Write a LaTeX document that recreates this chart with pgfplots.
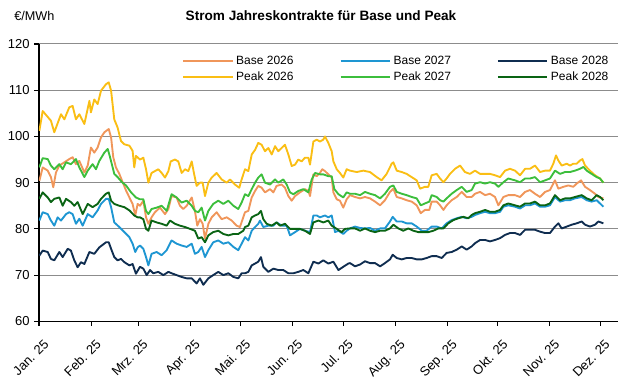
\documentclass[border=0pt]{standalone}
\usepackage{fontspec}
\setmainfont{Liberation Sans}
\usepackage{pgfplots}
\pgfplotsset{compat=1.18}
\definecolor{bA}{RGB}{240,150,90}
\definecolor{pA}{RGB}{250,190,20}
\definecolor{bB}{RGB}{30,150,210}
\definecolor{pB}{RGB}{60,190,60}
\definecolor{bC}{RGB}{15,45,80}
\definecolor{pC}{RGB}{10,100,20}
\begin{document}
\begin{tikzpicture}
\begin{axis}[name=ax, at={(0,0)}, anchor=south west, scale only axis,
 width=434.25pt, height=208pt,
 xmin=0, xmax=344.6, ymin=60, ymax=120, ytick={60,70,...,120},
 xtick={0,31,59,90,120,151,181,212,243,273,304,334},
 xticklabels={Jan. 25,Feb. 25,Mrz. 25,Apr. 25,Mai. 25,Jun. 25,Jul. 25,Aug. 25,Sep. 25,Okt. 25,Nov. 25,Dez. 25},
 axis x line*=bottom, axis y line*=left, axis line style={-, black, line width=0.8pt},
 tick align=outside, major tick length=3.5pt, tick style={black, line width=0.8pt},
 ymajorgrids, grid style={black!45, line width=0.75pt},
 /pgf/number format/assume math mode=true,
 ticklabel style={font=\fontsize{9.75}{11}\selectfont},
 xticklabel style={xshift=3pt, yshift=-8pt, rotate=45, anchor=north east, inner sep=1pt},
 legend columns=3,
 legend style={at={(0.24,0.976)}, anchor=north west, draw=none, fill=none,
   font=\fontsize{9}{10}\selectfont,
   /tikz/every even column/.append style={column sep=32.5pt}},
 legend cell align=left,
 legend image code/.code={\draw[#1, line width=1.5pt] (0pt,0pt) -- (37pt,0pt);},
 every axis plot/.append style={line width=1.4pt, line join=round},
]
% Base 2026
\addplot[bA] coordinates {
(0.2,90.4)(2.2,93.3)(5.2,92.6)(7.1,91.2)(8.5,89.0)(10.1,92.2)(12.1,93.7)(15.1,94.4)(18.0,95.1)(20.0,95.5)(22.0,94.0)(24.0,94.7)(27.0,92.2)(29.0,93.7)(30.9,97.6)(32.9,96.5)(34.9,97.6)(36.9,99.8)(38.9,100.9)(41.5,101.6)(42.9,99.8)(44.2,95.5)(45.8,93.3)(47.8,91.9)(49.8,90.1)(51.8,88.3)(53.8,86.8)(55.7,85.4)(57.3,82.9)(58.7,85.4)
(60.1,85.0)(62.1,86.1)(63.7,82.5)(65.1,81.1)(67.0,82.5)(69.0,83.6)(72.0,84.6)(75.0,83.2)(77.0,84.3)(78.9,87.1)(81.9,86.8)(83.9,85.0)(85.9,84.3)(87.9,85.0)(90.9,86.8)(92.8,83.9)(94.2,80.7)(95.8,82.1)(97.4,81.1)(98.8,77.9)(100.8,81.1)(102.8,82.5)(105.7,83.6)(108.7,82.1)(111.7,82.5)(114.7,81.8)(117.6,80.7)(119.6,80.4)
(122.6,83.6)(124.6,83.9)(126.6,86.8)(128.6,88.2)(130.5,89.3)(132.5,88.9)(134.5,87.9)(137.5,88.6)(139.5,87.9)(141.4,89.3)(144.4,89.6)(146.4,88.9)(148.4,87.1)(150.4,86.1)(152.4,87.1)(155.3,87.9)(158.3,88.6)(160.3,88.2)(161.3,87.1)(163.3,91.8)(165.3,91.4)(167.2,92.1)(168.6,92.9)(170.2,92.5)(172.2,91.8)(174.2,91.1)(175.2,87.9)(177.2,86.4)(179.1,86.1)(181.1,84.6)(183.1,86.4)
(185.1,87.3)(188.1,86.9)(191.1,86.6)(194.0,86.9)(197.0,86.6)(200.0,85.9)(203.0,85.1)(205.9,86.2)(208.9,88.0)(210.9,88.7)(212.9,86.9)(215.9,86.6)(218.8,86.2)(221.8,85.9)(224.8,85.1)(227.2,83.4)(229.7,84.1)(232.3,84.1)(233.7,85.9)(236.7,85.9)(238.7,85.1)(240.7,84.1)(242.6,85.1)(245.6,86.2)(248.6,86.9)(251.6,88.0)(254.5,86.9)(257.5,86.9)
(259.5,87.6)(262.5,88.0)(265.5,87.3)(268.4,87.6)(271.4,86.9)(273.4,85.1)(276.4,86.9)(279.3,87.3)(283.3,87.3)(286.3,86.9)(289.3,88.0)(292.2,88.4)(295.2,87.6)(298.2,86.9)(301.2,88.0)(304.1,88.4)(307.1,90.5)(309.1,88.7)(312.1,89.1)(315.0,89.4)(318.0,89.1)(320.0,89.8)(322.6,90.5)(325.0,89.1)(327.9,88.4)(330.9,87.6)(332.9,86.9)(335.9,86.6)
};
\addlegendentry{Base 2026}
% Base 2027
\addplot[bB] coordinates {
(0.2,81.8)(2.2,83.6)(5.2,83.2)(7.1,81.8)(9.1,80.7)(11.1,82.5)(13.1,81.8)(16.1,83.2)(18.0,83.6)(20.0,83.2)(22.0,81.1)(24.0,82.2)(26.0,80.7)(29.0,83.2)(31.9,82.5)(34.9,84.0)(36.9,85.4)(39.9,86.5)(41.5,86.5)(42.9,84.7)(44.8,81.4)(47.8,80.4)(50.8,79.3)(53.8,78.2)(55.7,76.8)(57.3,75.0)(58.7,76.0)
(60.1,76.4)(62.1,75.7)(63.7,73.9)(65.1,72.1)(67.0,74.6)(70.0,75.0)(73.0,74.3)(76.0,75.4)(78.9,77.5)(81.9,76.8)(84.9,76.4)(87.9,76.1)(90.9,76.8)(92.8,74.6)(94.8,75.0)(96.8,76.1)(98.8,73.9)(100.8,75.4)(103.7,77.1)(106.7,77.5)(109.7,76.8)(112.7,77.1)(115.7,76.1)(118.6,75.4)(120.6,76.8)
(122.6,78.2)(124.6,77.5)(126.6,79.6)(128.6,80.4)(130.5,81.1)(131.5,81.8)(133.5,80.4)(136.5,80.7)(139.5,80.7)(141.4,81.4)(144.4,80.7)(147.4,80.7)(149.4,78.6)(152.4,79.3)(155.3,80.0)(158.3,79.6)(161.3,79.3)(163.3,82.9)(165.3,82.9)(167.2,82.5)(170.2,82.9)(172.2,82.5)(174.2,82.9)(176.2,79.3)(178.2,79.6)(181.1,78.9)(183.1,79.6)
(185.1,80.1)(188.1,80.5)(191.1,80.2)(194.0,80.1)(197.0,80.2)(200.0,79.6)(203.0,80.1)(205.9,80.1)(208.9,81.6)(210.5,82.6)(212.9,81.6)(215.9,81.6)(218.8,81.2)(221.8,81.2)(224.8,80.5)(227.8,79.6)(230.7,79.6)(233.7,80.5)(236.7,80.5)(239.7,80.1)(242.6,81.2)(245.6,81.9)(248.6,82.3)(251.6,82.6)(254.5,82.3)(257.5,82.6)
(259.5,83.0)(262.5,83.4)(265.5,83.7)(268.4,83.4)(271.4,83.4)(274.4,83.7)(276.4,84.8)(279.3,85.1)(283.3,84.8)(286.3,84.4)(289.3,85.1)(292.2,85.1)(295.2,85.5)(298.2,84.8)(301.2,84.8)(304.1,85.1)(307.1,86.9)(310.1,85.9)(313.1,86.2)(316.0,86.2)(319.0,86.6)(323.0,86.9)(326.0,86.2)(328.9,85.9)(331.9,86.2)(333.9,85.5)(335.9,84.8)
};
\addlegendentry{Base 2027}
% Base 2028
\addplot[bC] coordinates {
(0.2,74.2)(2.2,75.3)(5.2,75.0)(7.1,73.5)(9.1,73.2)(12.1,75.0)(14.1,73.9)(17.1,75.7)(19.0,75.3)(21.0,73.2)(23.0,71.7)(25.0,72.8)(27.0,72.4)(30.0,75.0)(32.9,74.6)(35.9,76.0)(39.9,77.1)(41.5,77.1)(42.9,75.7)(44.8,73.9)(46.8,73.2)(48.8,73.5)(50.8,72.8)(53.8,72.1)(55.7,72.4)(57.7,70.3)
(60.1,71.8)(62.1,71.4)(64.1,70.0)(66.1,71.1)(68.0,70.4)(71.0,70.7)(74.0,70.0)(77.0,70.7)(78.9,70.4)(81.9,70.0)(84.9,69.6)(87.9,69.3)(90.9,69.3)(93.8,68.2)(95.8,69.3)(97.8,67.9)(100.8,69.3)(103.7,70.0)(106.7,70.7)(109.7,70.0)(112.7,70.4)(115.7,69.6)(118.6,69.3)(120.6,70.4)
(122.6,70.4)(124.6,70.7)(126.6,72.1)(128.6,72.5)(130.5,72.9)(132.1,73.9)(133.5,71.8)(136.5,70.7)(139.5,71.4)(142.4,71.1)(145.4,71.1)(148.4,70.4)(151.4,70.4)(154.3,70.7)(157.3,71.1)(160.3,70.4)(163.3,72.9)(166.3,72.5)(169.2,73.2)(172.2,72.5)(175.2,72.9)(178.2,71.1)(181.1,71.8)(184.1,72.5)
(185.1,72.6)(188.1,71.9)(191.1,72.3)(194.0,73.0)(197.0,72.6)(200.0,72.6)(203.0,71.9)(205.9,72.6)(208.9,73.4)(210.5,74.4)(212.9,73.7)(215.9,73.4)(218.8,73.7)(221.8,73.7)(224.8,73.4)(227.8,73.4)(230.7,73.7)(233.7,74.1)(236.7,74.1)(239.7,73.7)(242.6,74.8)(245.6,75.0)(248.6,75.5)(251.6,76.2)(254.5,75.5)(257.5,76.2)
(259.5,76.9)(262.5,77.6)(265.5,77.6)(268.4,77.3)(271.4,77.6)(274.4,78.0)(277.4,78.7)(280.3,79.1)(283.3,79.1)(286.3,78.7)(289.3,79.8)(292.2,79.8)(295.2,79.8)(298.2,79.4)(301.2,79.1)(304.1,79.1)(307.1,80.5)(309.1,81.2)(311.1,80.1)(314.1,80.5)(317.0,80.9)(320.0,81.2)(323.0,81.6)(325.0,80.9)(327.9,80.5)(330.9,80.9)(332.9,81.6)(335.9,81.2)
};
\addlegendentry{Base 2028}
% Peak 2026
\addplot[pA] coordinates {
(0.2,101.2)(2.2,105.5)(7.1,103.4)(9.1,100.9)(13.1,104.8)(15.1,103.7)(18.0,106.3)(20.0,106.6)(22.0,103.7)(24.0,104.8)(27.0,102.7)(30.0,107.7)(30.9,105.2)(32.9,108.0)(34.9,107.0)(36.9,109.9)(39.9,111.3)(41.5,111.7)(42.9,109.9)(44.8,103.7)(46.8,101.9)(48.8,99.0)(50.8,98.3)(53.8,98.0)(55.7,96.9)(56.7,93.3)(57.7,95.8)
(60.1,95.0)(62.1,95.4)(63.7,92.9)(65.1,90.0)(67.0,92.1)(69.0,92.5)(71.0,92.9)(73.0,92.1)(75.0,91.1)(77.0,92.5)(78.4,94.6)(80.9,95.0)(82.9,94.6)(84.9,92.1)(86.9,92.9)(88.9,92.5)(90.9,94.6)(92.2,92.1)(93.8,89.3)(95.8,90.0)(97.4,90.0)(98.8,87.1)(100.8,90.0)(102.8,91.1)(105.7,92.1)(108.7,90.7)(111.7,90.0)(113.7,90.7)(116.6,89.6)(119.2,88.9)(120.6,90.7)
(122.6,92.9)(124.6,92.5)(126.6,96.1)(128.6,97.1)(130.5,98.6)(132.5,98.2)(134.5,96.8)(136.5,97.5)(138.5,96.1)(140.5,97.9)(142.4,96.8)(144.4,97.5)(146.4,98.2)(148.4,96.1)(150.4,93.6)(152.4,93.9)(154.3,95.0)(156.3,94.6)(158.3,95.4)(160.3,95.4)(161.3,93.9)(163.3,98.9)(165.3,99.3)(167.2,98.9)(169.2,99.3)(170.2,100.0)(172.2,98.6)(174.2,96.8)(175.2,94.6)(177.2,92.9)(179.1,92.1)(181.1,91.1)(183.1,92.9)
(185.1,92.6)(189.1,92.3)(193.0,92.6)(197.0,92.3)(201.0,91.2)(203.9,90.5)(206.9,91.9)(209.9,94.1)(210.9,94.4)(212.9,92.6)(215.9,92.3)(218.8,91.9)(221.8,91.2)(224.8,90.5)(226.8,88.7)(229.7,89.1)(231.7,89.1)(233.7,91.6)(236.7,91.9)(238.7,90.9)(240.7,90.1)(242.6,90.9)(244.6,91.9)(247.6,93.0)(250.6,93.7)(253.5,92.3)(256.5,91.9)
(259.5,92.6)(262.5,91.9)(265.5,91.9)(268.4,91.9)(271.4,91.6)(274.4,91.2)(277.4,92.6)(280.3,93.0)(283.3,92.6)(286.3,91.6)(289.3,93.0)(292.2,93.0)(295.2,93.7)(298.2,92.3)(301.2,92.6)(304.1,92.6)(306.1,94.1)(307.7,95.9)(309.1,94.8)(311.1,93.7)(314.1,94.1)(316.0,93.7)(318.0,94.1)(320.0,94.1)(322.0,94.8)(323.4,95.1)(325.0,93.7)(327.9,92.6)(330.9,91.6)(333.9,90.9)(335.9,90.0)
};
\addlegendentry{Peak 2026}
% Peak 2027
\addplot[pB] coordinates {
(0.2,93.3)(2.2,95.3)(5.2,95.1)(7.1,93.7)(9.1,92.9)(12.1,94.0)(14.1,92.9)(16.1,94.4)(19.0,94.0)(22.0,95.1)(24.0,93.3)(27.0,91.2)(29.0,92.6)(31.9,94.0)(33.9,92.9)(35.9,94.7)(38.9,96.5)(40.9,97.3)(42.3,95.5)(44.8,91.9)(46.8,91.2)(49.4,90.1)(51.8,89.4)(54.8,87.9)(57.7,86.8)
(60.1,86.4)(62.1,86.4)(63.7,83.9)(65.1,83.2)(67.0,84.3)(70.0,84.6)(73.0,85.0)(76.0,83.9)(78.9,87.5)(81.9,86.8)(84.9,85.7)(87.9,86.1)(90.9,85.0)(92.8,83.9)(94.8,83.6)(96.8,84.6)(98.8,81.8)(100.8,83.9)(103.7,85.4)(106.7,86.1)(109.7,85.4)(112.7,86.1)(115.7,85.0)(118.6,84.3)(120.6,85.7)
(122.6,87.5)(124.6,87.1)(126.6,88.6)(128.6,90.0)(130.5,91.1)(132.5,91.8)(134.5,90.0)(137.5,89.6)(140.5,90.7)(142.4,90.0)(145.4,90.7)(147.4,89.6)(149.4,87.9)(151.4,87.5)(154.3,88.2)(157.3,88.6)(160.3,87.9)(162.3,90.7)(164.3,92.1)(167.2,91.8)(169.2,91.8)(172.2,91.4)(174.2,91.4)(175.8,88.6)(178.2,87.5)(181.1,86.8)(183.1,87.9)
(185.1,87.6)(188.1,87.6)(191.1,87.3)(194.0,88.0)(197.0,87.6)(200.0,87.3)(203.0,86.6)(205.9,87.6)(208.9,89.1)(210.9,89.4)(212.9,88.0)(215.9,87.6)(218.8,87.3)(221.8,86.9)(224.8,86.6)(227.2,85.1)(229.7,85.5)(232.3,85.9)(233.7,87.3)(236.7,86.9)(238.7,86.2)(240.7,85.9)(242.6,86.6)(245.6,87.6)(248.6,88.4)(251.6,89.1)(254.5,88.0)(257.5,88.4)
(259.5,89.8)(262.5,90.1)(265.5,89.8)(268.4,90.1)(271.4,89.8)(273.4,89.1)(276.4,90.1)(279.3,90.9)(283.3,90.5)(286.3,90.1)(289.3,90.9)(292.2,90.9)(295.2,91.2)(298.2,90.1)(301.2,90.5)(304.1,90.9)(307.1,92.6)(310.1,91.9)(313.1,92.3)(316.0,92.3)(319.0,92.6)(322.0,93.0)(324.0,93.4)(326.0,92.6)(328.9,91.9)(331.9,91.2)(333.9,90.9)(335.9,90.0)
};
\addlegendentry{Peak 2027}
% Peak 2028
\addplot[pC] coordinates {
(0.2,86.5)(2.2,87.9)(5.2,86.8)(7.1,85.8)(9.1,86.5)(12.1,86.8)(14.1,85.0)(16.1,86.5)(19.0,85.8)(21.0,85.0)(23.0,85.8)(26.0,83.2)(29.0,85.4)(31.9,84.7)(34.9,85.4)(36.9,86.5)(39.9,87.6)(41.5,87.9)(42.9,86.1)(44.8,85.4)(47.8,85.0)(50.8,84.7)(53.8,84.0)(56.7,82.9)(58.7,82.5)
(60.1,82.5)(62.1,82.1)(63.7,80.0)(65.1,79.6)(67.0,81.8)(70.0,81.4)(73.0,81.1)(76.0,80.7)(78.0,81.8)(80.9,81.1)(83.9,80.7)(86.9,80.4)(89.9,80.0)(92.8,79.6)(94.8,77.9)(96.8,78.2)(98.8,77.1)(100.8,78.6)(103.7,79.3)(106.7,79.6)(109.7,78.9)(112.7,78.6)(115.7,78.9)(118.6,78.9)(121.6,79.6)
(122.6,80.4)(124.6,80.7)(126.6,82.5)(128.6,82.9)(130.5,83.2)(132.1,83.9)(133.5,82.1)(135.5,81.1)(138.5,80.7)(141.4,81.4)(143.4,80.7)(146.4,81.1)(149.4,80.0)(152.4,80.0)(155.3,80.0)(158.3,79.6)(161.3,78.9)(163.3,81.4)(166.3,81.8)(169.2,81.4)(172.2,81.8)(174.2,80.7)(177.2,80.0)(180.1,79.3)(182.1,80.0)
(185.1,80.1)(188.1,80.1)(191.1,79.6)(194.0,80.1)(197.0,79.6)(200.0,79.3)(203.0,79.6)(205.9,79.6)(208.9,80.1)(210.9,80.9)(213.9,80.1)(216.8,79.6)(219.8,80.1)(222.8,79.6)(225.8,79.3)(228.8,79.3)(231.7,79.3)(234.7,79.6)(237.7,80.1)(240.7,80.1)(243.6,81.2)(246.6,81.9)(249.6,82.3)(252.6,82.6)(255.5,82.3)(257.5,83.0)
(259.5,83.4)(262.5,83.7)(265.5,84.1)(268.4,83.7)(271.4,83.7)(274.4,84.1)(276.4,85.1)(279.3,85.5)(283.3,85.1)(286.3,84.8)(289.3,85.5)(292.2,85.5)(295.2,85.9)(298.2,85.1)(301.2,85.1)(304.1,85.5)(307.1,87.3)(310.1,86.2)(313.1,86.6)(316.0,86.6)(319.0,86.9)(323.0,87.3)(326.0,86.6)(328.9,86.2)(331.9,87.3)(333.9,86.9)(335.9,86.2)
};
\addlegendentry{Peak 2028}
\end{axis}
\path ([shift={(-29.25pt,-50.25pt)}]ax.south west) rectangle ([shift={(10.5pt,33pt)}]ax.north east);
\node[font=\bfseries\fontsize{10.2}{12}\selectfont] at ([shift={(211.5pt,21pt)}]ax.north west) {Strom Jahreskontrakte für Base und Peak};
\node[anchor=west, inner sep=0pt, font=\fontsize{9.5}{11}\selectfont] at ([shift={(-18.75pt,21pt)}]ax.north west) {€/MWh};
\end{tikzpicture}
\end{document}
